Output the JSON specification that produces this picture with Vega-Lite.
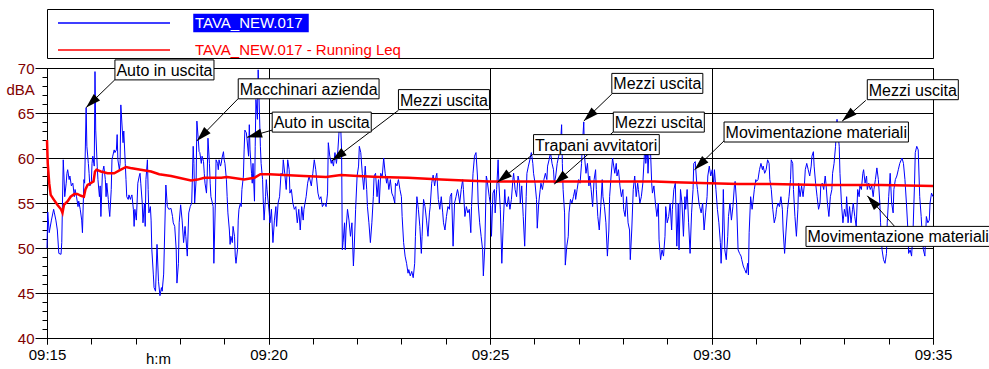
{
  "$schema": "https://vega.github.io/schema/vega-lite/v6.json",
  "autosize": {"type": "pad"},
  "padding": {"left": 5, "top": 8, "right": 0, "bottom": 0},
  "background": "white",
  "config": {
    "font": "Liberation Sans",
    "view": {"stroke": "#000000", "strokeWidth": 1},
    "axis": {"labelFont": "Liberation Sans", "titleFont": "Liberation Sans"},
    "legend": {"labelFont": "Liberation Sans"}
  },
  "spacing": 10,
  "bounds": "flush",
  "resolve": {"scale": {"color": "independent"}},
  "vconcat": [
    {
      "width": 886,
      "height": 49,
      "view": {"stroke": "#000000", "strokeWidth": 1},
      "data": {"values": [{}]},
      "mark": {"type": "text", "text": ""},
      "encoding": {}
    },
    {
  "width": 886,
  "height": 270,
  "resolve": {"axis": {"x": "independent", "y": "independent"}},
  "layer": [
    {
      "data": {"values": [
        {"t":"2024-01-01T09:15:00","v":50.0},{"t":"2024-01-01T09:15:01","v":54.0},{"t":"2024-01-01T09:15:03","v":51.7},{"t":"2024-01-01T09:15:06","v":53.1},{"t":"2024-01-01T09:15:09","v":54.3},{"t":"2024-01-01T09:15:10","v":53.9},{"t":"2024-01-01T09:15:12","v":53.1},{"t":"2024-01-01T09:15:14","v":52.0},{"t":"2024-01-01T09:15:16","v":49.4},{"t":"2024-01-01T09:15:19","v":49.3},{"t":"2024-01-01T09:15:20","v":50.6},{"t":"2024-01-01T09:15:22","v":59.8},{"t":"2024-01-01T09:15:23","v":58.0},{"t":"2024-01-01T09:15:24","v":55.7},{"t":"2024-01-01T09:15:26","v":57.2},{"t":"2024-01-01T09:15:27","v":58.3},{"t":"2024-01-01T09:15:28","v":58.7},{"t":"2024-01-01T09:15:30","v":57.6},{"t":"2024-01-01T09:15:31","v":58.0},{"t":"2024-01-01T09:15:33","v":56.9},{"t":"2024-01-01T09:15:35","v":57.2},{"t":"2024-01-01T09:15:37","v":55.7},{"t":"2024-01-01T09:15:38","v":56.5},{"t":"2024-01-01T09:15:40","v":55.7},{"t":"2024-01-01T09:15:42","v":54.6},{"t":"2024-01-01T09:15:43","v":55.2},{"t":"2024-01-01T09:15:45","v":54.3},{"t":"2024-01-01T09:15:47","v":53.1},{"t":"2024-01-01T09:15:48","v":51.7},{"t":"2024-01-01T09:15:50","v":57.6},{"t":"2024-01-01T09:15:51","v":57.2},{"t":"2024-01-01T09:15:53","v":65.6},{"t":"2024-01-01T09:15:54","v":61.3},{"t":"2024-01-01T09:15:56","v":59.4},{"t":"2024-01-01T09:15:57","v":58.3},{"t":"2024-01-01T09:15:58","v":56.9},
        {"t":"2024-01-01T09:16:00","v":57.2},{"t":"2024-01-01T09:16:01","v":59.4},{"t":"2024-01-01T09:16:02","v":60.2},{"t":"2024-01-01T09:16:04","v":59.1},{"t":"2024-01-01T09:16:05","v":69.6},{"t":"2024-01-01T09:16:06","v":63.1},{"t":"2024-01-01T09:16:08","v":59.1},{"t":"2024-01-01T09:16:09","v":57.6},{"t":"2024-01-01T09:16:11","v":55.7},{"t":"2024-01-01T09:16:12","v":56.9},{"t":"2024-01-01T09:16:13","v":53.5},{"t":"2024-01-01T09:16:15","v":58.3},{"t":"2024-01-01T09:16:16","v":58.7},{"t":"2024-01-01T09:16:17","v":59.1},{"t":"2024-01-01T09:16:19","v":57.6},{"t":"2024-01-01T09:16:20","v":55.7},{"t":"2024-01-01T09:16:21","v":57.2},{"t":"2024-01-01T09:16:23","v":55.4},{"t":"2024-01-01T09:16:24","v":54.3},{"t":"2024-01-01T09:16:25","v":53.5},{"t":"2024-01-01T09:16:27","v":56.5},{"t":"2024-01-01T09:16:28","v":59.8},{"t":"2024-01-01T09:16:29","v":60.2},{"t":"2024-01-01T09:16:31","v":60.9},{"t":"2024-01-01T09:16:32","v":60.6},{"t":"2024-01-01T09:16:34","v":60.9},{"t":"2024-01-01T09:16:35","v":62.6},{"t":"2024-01-01T09:16:36","v":59.8},{"t":"2024-01-01T09:16:38","v":58.7},{"t":"2024-01-01T09:16:39","v":59.4},{"t":"2024-01-01T09:16:40","v":65.9},{"t":"2024-01-01T09:16:42","v":63.1},{"t":"2024-01-01T09:16:43","v":61.7},{"t":"2024-01-01T09:16:44","v":63.0},{"t":"2024-01-01T09:16:46","v":59.4},{"t":"2024-01-01T09:16:47","v":57.6},{"t":"2024-01-01T09:16:48","v":55.7},{"t":"2024-01-01T09:16:50","v":55.4},{"t":"2024-01-01T09:16:51","v":55.9},{"t":"2024-01-01T09:16:53","v":55.4},{"t":"2024-01-01T09:16:54","v":55.7},{"t":"2024-01-01T09:16:55","v":55.9},{"t":"2024-01-01T09:16:57","v":54.3},{"t":"2024-01-01T09:16:58","v":52.4},{"t":"2024-01-01T09:16:59","v":54.3},
        {"t":"2024-01-01T09:17:01","v":53.1},{"t":"2024-01-01T09:17:02","v":55.0},{"t":"2024-01-01T09:17:03","v":57.2},{"t":"2024-01-01T09:17:05","v":58.0},{"t":"2024-01-01T09:17:06","v":58.3},{"t":"2024-01-01T09:17:07","v":57.2},{"t":"2024-01-01T09:17:09","v":55.0},{"t":"2024-01-01T09:17:10","v":52.8},{"t":"2024-01-01T09:17:12","v":55.0},{"t":"2024-01-01T09:17:13","v":52.4},{"t":"2024-01-01T09:17:14","v":57.6},{"t":"2024-01-01T09:17:16","v":59.8},{"t":"2024-01-01T09:17:17","v":56.5},{"t":"2024-01-01T09:17:18","v":53.9},{"t":"2024-01-01T09:17:20","v":54.6},{"t":"2024-01-01T09:17:21","v":53.1},{"t":"2024-01-01T09:17:22","v":49.8},{"t":"2024-01-01T09:17:24","v":47.1},{"t":"2024-01-01T09:17:25","v":45.6},{"t":"2024-01-01T09:17:27","v":45.2},{"t":"2024-01-01T09:17:29","v":50.4},{"t":"2024-01-01T09:17:31","v":46.3},{"t":"2024-01-01T09:17:33","v":44.7},{"t":"2024-01-01T09:17:35","v":45.6},{"t":"2024-01-01T09:17:36","v":45.2},{"t":"2024-01-01T09:17:38","v":47.1},{"t":"2024-01-01T09:17:41","v":57.0},{"t":"2024-01-01T09:17:43","v":54.6},{"t":"2024-01-01T09:17:45","v":54.3},{"t":"2024-01-01T09:17:48","v":54.4},{"t":"2024-01-01T09:17:50","v":53.5},{"t":"2024-01-01T09:17:51","v":52.8},{"t":"2024-01-01T09:17:53","v":52.4},{"t":"2024-01-01T09:17:55","v":49.8},{"t":"2024-01-01T09:17:56","v":46.1},{"t":"2024-01-01T09:17:58","v":48.3},{"t":"2024-01-01T09:17:59","v":52.8},
        {"t":"2024-01-01T09:18:01","v":54.8},{"t":"2024-01-01T09:18:03","v":53.1},{"t":"2024-01-01T09:18:05","v":50.6},{"t":"2024-01-01T09:18:07","v":52.4},{"t":"2024-01-01T09:18:08","v":51.3},{"t":"2024-01-01T09:18:10","v":49.1},{"t":"2024-01-01T09:18:12","v":53.9},{"t":"2024-01-01T09:18:14","v":54.6},{"t":"2024-01-01T09:18:16","v":55.0},{"t":"2024-01-01T09:18:18","v":61.3},{"t":"2024-01-01T09:18:19","v":59.4},{"t":"2024-01-01T09:18:20","v":55.0},{"t":"2024-01-01T09:18:22","v":57.6},{"t":"2024-01-01T09:18:23","v":64.1},{"t":"2024-01-01T09:18:25","v":62.0},{"t":"2024-01-01T09:18:26","v":60.7},{"t":"2024-01-01T09:18:27","v":60.6},{"t":"2024-01-01T09:18:29","v":59.4},{"t":"2024-01-01T09:18:30","v":60.2},{"t":"2024-01-01T09:18:32","v":59.6},{"t":"2024-01-01T09:18:33","v":58.3},{"t":"2024-01-01T09:18:34","v":57.2},{"t":"2024-01-01T09:18:36","v":56.1},{"t":"2024-01-01T09:18:37","v":58.0},{"t":"2024-01-01T09:18:38","v":62.2},{"t":"2024-01-01T09:18:40","v":59.4},{"t":"2024-01-01T09:18:41","v":57.2},{"t":"2024-01-01T09:18:42","v":55.7},{"t":"2024-01-01T09:18:44","v":55.0},{"t":"2024-01-01T09:18:45","v":54.6},{"t":"2024-01-01T09:18:46","v":48.3},{"t":"2024-01-01T09:18:48","v":55.0},{"t":"2024-01-01T09:18:49","v":59.8},{"t":"2024-01-01T09:18:51","v":59.4},{"t":"2024-01-01T09:18:52","v":58.7},{"t":"2024-01-01T09:18:53","v":59.8},{"t":"2024-01-01T09:18:55","v":59.1},{"t":"2024-01-01T09:18:56","v":59.4},{"t":"2024-01-01T09:18:57","v":60.0},{"t":"2024-01-01T09:18:59","v":60.7},
        {"t":"2024-01-01T09:19:00","v":59.8},{"t":"2024-01-01T09:19:01","v":59.4},{"t":"2024-01-01T09:19:03","v":57.6},{"t":"2024-01-01T09:19:04","v":55.7},{"t":"2024-01-01T09:19:05","v":53.9},{"t":"2024-01-01T09:19:07","v":52.0},{"t":"2024-01-01T09:19:08","v":50.4},{"t":"2024-01-01T09:19:09","v":51.3},{"t":"2024-01-01T09:19:11","v":50.6},{"t":"2024-01-01T09:19:12","v":52.4},{"t":"2024-01-01T09:19:14","v":51.3},{"t":"2024-01-01T09:19:15","v":49.1},{"t":"2024-01-01T09:19:16","v":48.3},{"t":"2024-01-01T09:19:18","v":49.8},{"t":"2024-01-01T09:19:19","v":53.1},{"t":"2024-01-01T09:19:20","v":54.3},{"t":"2024-01-01T09:19:22","v":55.0},{"t":"2024-01-01T09:19:23","v":54.6},{"t":"2024-01-01T09:19:24","v":56.5},{"t":"2024-01-01T09:19:26","v":58.0},{"t":"2024-01-01T09:19:27","v":60.9},{"t":"2024-01-01T09:19:28","v":63.1},{"t":"2024-01-01T09:19:30","v":62.8},{"t":"2024-01-01T09:19:31","v":62.0},{"t":"2024-01-01T09:19:33","v":60.2},{"t":"2024-01-01T09:19:34","v":63.7},{"t":"2024-01-01T09:19:35","v":60.9},{"t":"2024-01-01T09:19:37","v":58.3},{"t":"2024-01-01T09:19:38","v":57.2},{"t":"2024-01-01T09:19:39","v":59.4},{"t":"2024-01-01T09:19:41","v":55.2},{"t":"2024-01-01T09:19:42","v":61.3},{"t":"2024-01-01T09:19:43","v":66.5},{"t":"2024-01-01T09:19:45","v":64.3},{"t":"2024-01-01T09:19:46","v":69.8},{"t":"2024-01-01T09:19:47","v":67.2},{"t":"2024-01-01T09:19:49","v":61.3},{"t":"2024-01-01T09:19:50","v":59.4},{"t":"2024-01-01T09:19:52","v":57.6},{"t":"2024-01-01T09:19:53","v":55.0},{"t":"2024-01-01T09:19:54","v":53.1},{"t":"2024-01-01T09:19:56","v":55.7},{"t":"2024-01-01T09:19:57","v":57.6},{"t":"2024-01-01T09:19:58","v":56.5},
        {"t":"2024-01-01T09:20:01","v":53.9},{"t":"2024-01-01T09:20:02","v":52.8},{"t":"2024-01-01T09:20:04","v":54.3},{"t":"2024-01-01T09:20:06","v":50.6},{"t":"2024-01-01T09:20:08","v":53.1},{"t":"2024-01-01T09:20:10","v":54.6},{"t":"2024-01-01T09:20:11","v":52.4},{"t":"2024-01-01T09:20:13","v":55.0},{"t":"2024-01-01T09:20:15","v":55.7},{"t":"2024-01-01T09:20:17","v":58.3},{"t":"2024-01-01T09:20:19","v":58.0},{"t":"2024-01-01T09:20:20","v":59.8},{"t":"2024-01-01T09:20:22","v":58.3},{"t":"2024-01-01T09:20:24","v":56.5},{"t":"2024-01-01T09:20:26","v":59.8},{"t":"2024-01-01T09:20:28","v":58.7},{"t":"2024-01-01T09:20:29","v":56.1},{"t":"2024-01-01T09:20:31","v":56.5},{"t":"2024-01-01T09:20:33","v":55.0},{"t":"2024-01-01T09:20:35","v":54.3},{"t":"2024-01-01T09:20:37","v":54.6},{"t":"2024-01-01T09:20:39","v":52.8},{"t":"2024-01-01T09:20:41","v":54.3},{"t":"2024-01-01T09:20:43","v":52.0},{"t":"2024-01-01T09:20:45","v":54.6},{"t":"2024-01-01T09:20:47","v":53.1},{"t":"2024-01-01T09:20:48","v":54.3},{"t":"2024-01-01T09:20:51","v":55.7},{"t":"2024-01-01T09:20:53","v":57.2},{"t":"2024-01-01T09:20:55","v":58.0},{"t":"2024-01-01T09:20:58","v":56.9},
        {"t":"2024-01-01T09:21:00","v":58.3},{"t":"2024-01-01T09:21:02","v":59.8},{"t":"2024-01-01T09:21:04","v":58.7},{"t":"2024-01-01T09:21:07","v":56.1},{"t":"2024-01-01T09:21:09","v":55.4},{"t":"2024-01-01T09:21:11","v":55.7},{"t":"2024-01-01T09:21:13","v":54.6},{"t":"2024-01-01T09:21:16","v":55.0},{"t":"2024-01-01T09:21:18","v":54.6},{"t":"2024-01-01T09:21:20","v":56.1},{"t":"2024-01-01T09:21:21","v":61.7},{"t":"2024-01-01T09:21:23","v":60.2},{"t":"2024-01-01T09:21:25","v":59.4},{"t":"2024-01-01T09:21:26","v":59.8},{"t":"2024-01-01T09:21:28","v":59.1},{"t":"2024-01-01T09:21:30","v":60.6},{"t":"2024-01-01T09:21:32","v":59.4},{"t":"2024-01-01T09:21:34","v":60.9},{"t":"2024-01-01T09:21:36","v":63.5},{"t":"2024-01-01T09:21:37","v":65.0},{"t":"2024-01-01T09:21:39","v":60.9},{"t":"2024-01-01T09:21:40","v":49.8},{"t":"2024-01-01T09:21:41","v":50.6},{"t":"2024-01-01T09:21:43","v":52.8},{"t":"2024-01-01T09:21:44","v":49.8},{"t":"2024-01-01T09:21:45","v":52.0},{"t":"2024-01-01T09:21:47","v":54.3},{"t":"2024-01-01T09:21:49","v":53.1},{"t":"2024-01-01T09:21:51","v":51.3},{"t":"2024-01-01T09:21:53","v":52.8},{"t":"2024-01-01T09:21:55","v":48.0},{"t":"2024-01-01T09:21:56","v":49.8},{"t":"2024-01-01T09:21:58","v":54.3},
        {"t":"2024-01-01T09:22:00","v":58.0},{"t":"2024-01-01T09:22:02","v":59.1},{"t":"2024-01-01T09:22:03","v":61.3},{"t":"2024-01-01T09:22:05","v":60.6},{"t":"2024-01-01T09:22:07","v":58.3},{"t":"2024-01-01T09:22:09","v":56.5},{"t":"2024-01-01T09:22:11","v":59.1},{"t":"2024-01-01T09:22:13","v":56.5},{"t":"2024-01-01T09:22:14","v":54.6},{"t":"2024-01-01T09:22:16","v":52.8},{"t":"2024-01-01T09:22:18","v":50.6},{"t":"2024-01-01T09:22:20","v":52.8},{"t":"2024-01-01T09:22:22","v":55.7},{"t":"2024-01-01T09:22:23","v":58.0},{"t":"2024-01-01T09:22:25","v":58.3},{"t":"2024-01-01T09:22:27","v":55.7},{"t":"2024-01-01T09:22:29","v":57.6},{"t":"2024-01-01T09:22:30","v":55.0},{"t":"2024-01-01T09:22:32","v":58.3},{"t":"2024-01-01T09:22:34","v":57.9},{"t":"2024-01-01T09:22:36","v":60.0},{"t":"2024-01-01T09:22:38","v":58.3},{"t":"2024-01-01T09:22:40","v":57.2},{"t":"2024-01-01T09:22:41","v":58.0},{"t":"2024-01-01T09:22:43","v":56.5},{"t":"2024-01-01T09:22:45","v":57.6},{"t":"2024-01-01T09:22:47","v":56.1},{"t":"2024-01-01T09:22:49","v":55.7},{"t":"2024-01-01T09:22:51","v":55.0},{"t":"2024-01-01T09:22:52","v":57.2},{"t":"2024-01-01T09:22:54","v":56.9},{"t":"2024-01-01T09:22:56","v":57.6},{"t":"2024-01-01T09:22:58","v":56.5},
        {"t":"2024-01-01T09:23:00","v":55.7},{"t":"2024-01-01T09:23:01","v":53.5},{"t":"2024-01-01T09:23:03","v":50.6},{"t":"2024-01-01T09:23:05","v":49.1},{"t":"2024-01-01T09:23:07","v":48.3},{"t":"2024-01-01T09:23:09","v":47.2},{"t":"2024-01-01T09:23:10","v":47.6},{"t":"2024-01-01T09:23:12","v":46.9},{"t":"2024-01-01T09:23:14","v":47.4},{"t":"2024-01-01T09:23:16","v":46.7},{"t":"2024-01-01T09:23:18","v":48.3},{"t":"2024-01-01T09:23:19","v":51.3},{"t":"2024-01-01T09:23:21","v":55.7},{"t":"2024-01-01T09:23:23","v":54.3},{"t":"2024-01-01T09:23:25","v":52.4},{"t":"2024-01-01T09:23:27","v":49.4},{"t":"2024-01-01T09:23:28","v":51.3},{"t":"2024-01-01T09:23:30","v":55.4},{"t":"2024-01-01T09:23:32","v":54.6},{"t":"2024-01-01T09:23:34","v":53.1},{"t":"2024-01-01T09:23:36","v":51.3},{"t":"2024-01-01T09:23:38","v":53.9},{"t":"2024-01-01T09:23:39","v":54.6},{"t":"2024-01-01T09:23:41","v":57.2},{"t":"2024-01-01T09:23:43","v":58.1},{"t":"2024-01-01T09:23:45","v":56.9},{"t":"2024-01-01T09:23:47","v":58.0},{"t":"2024-01-01T09:23:48","v":58.3},{"t":"2024-01-01T09:23:50","v":55.4},{"t":"2024-01-01T09:23:52","v":54.3},{"t":"2024-01-01T09:23:54","v":55.7},{"t":"2024-01-01T09:23:56","v":53.9},{"t":"2024-01-01T09:23:57","v":52.8},{"t":"2024-01-01T09:23:59","v":52.0},
        {"t":"2024-01-01T09:24:01","v":53.5},{"t":"2024-01-01T09:24:03","v":54.6},{"t":"2024-01-01T09:24:05","v":54.3},{"t":"2024-01-01T09:24:06","v":55.7},{"t":"2024-01-01T09:24:08","v":56.1},{"t":"2024-01-01T09:24:10","v":50.2},{"t":"2024-01-01T09:24:12","v":55.0},{"t":"2024-01-01T09:24:14","v":55.7},{"t":"2024-01-01T09:24:16","v":56.5},{"t":"2024-01-01T09:24:17","v":56.1},{"t":"2024-01-01T09:24:19","v":55.0},{"t":"2024-01-01T09:24:21","v":56.5},{"t":"2024-01-01T09:24:23","v":57.6},{"t":"2024-01-01T09:24:24","v":56.5},{"t":"2024-01-01T09:24:26","v":53.5},{"t":"2024-01-01T09:24:28","v":54.6},{"t":"2024-01-01T09:24:30","v":53.9},{"t":"2024-01-01T09:24:32","v":54.3},{"t":"2024-01-01T09:24:34","v":51.7},{"t":"2024-01-01T09:24:35","v":54.6},{"t":"2024-01-01T09:24:37","v":58.3},{"t":"2024-01-01T09:24:39","v":60.2},{"t":"2024-01-01T09:24:41","v":60.6},{"t":"2024-01-01T09:24:43","v":58.0},{"t":"2024-01-01T09:24:44","v":55.0},{"t":"2024-01-01T09:24:46","v":52.8},{"t":"2024-01-01T09:24:48","v":51.3},{"t":"2024-01-01T09:24:50","v":49.8},{"t":"2024-01-01T09:24:51","v":46.9},{"t":"2024-01-01T09:24:53","v":50.2},{"t":"2024-01-01T09:24:55","v":58.0},{"t":"2024-01-01T09:24:56","v":57.6},{"t":"2024-01-01T09:24:59","v":55.7},
        {"t":"2024-01-01T09:25:01","v":54.6},{"t":"2024-01-01T09:25:02","v":51.3},{"t":"2024-01-01T09:25:04","v":56.1},{"t":"2024-01-01T09:25:06","v":56.5},{"t":"2024-01-01T09:25:07","v":53.9},{"t":"2024-01-01T09:25:09","v":56.5},{"t":"2024-01-01T09:25:11","v":59.8},{"t":"2024-01-01T09:25:12","v":57.2},{"t":"2024-01-01T09:25:14","v":54.3},{"t":"2024-01-01T09:25:16","v":48.3},{"t":"2024-01-01T09:25:18","v":52.8},{"t":"2024-01-01T09:25:20","v":56.5},{"t":"2024-01-01T09:25:21","v":55.0},{"t":"2024-01-01T09:25:23","v":54.6},{"t":"2024-01-01T09:25:25","v":55.7},{"t":"2024-01-01T09:25:27","v":54.3},{"t":"2024-01-01T09:25:29","v":55.4},{"t":"2024-01-01T09:25:31","v":57.6},{"t":"2024-01-01T09:25:32","v":58.3},{"t":"2024-01-01T09:25:34","v":56.5},{"t":"2024-01-01T09:25:36","v":55.7},{"t":"2024-01-01T09:25:38","v":58.0},{"t":"2024-01-01T09:25:40","v":57.2},{"t":"2024-01-01T09:25:41","v":55.0},{"t":"2024-01-01T09:25:43","v":56.9},{"t":"2024-01-01T09:25:45","v":53.5},{"t":"2024-01-01T09:25:47","v":50.2},{"t":"2024-01-01T09:25:49","v":55.7},{"t":"2024-01-01T09:25:50","v":58.3},{"t":"2024-01-01T09:25:52","v":59.1},{"t":"2024-01-01T09:25:54","v":59.8},{"t":"2024-01-01T09:25:56","v":60.6},{"t":"2024-01-01T09:25:58","v":59.4},{"t":"2024-01-01T09:25:59","v":58.3},
        {"t":"2024-01-01T09:26:01","v":57.2},{"t":"2024-01-01T09:26:03","v":55.4},{"t":"2024-01-01T09:26:04","v":52.2},{"t":"2024-01-01T09:26:06","v":55.0},{"t":"2024-01-01T09:26:08","v":56.5},{"t":"2024-01-01T09:26:09","v":57.2},{"t":"2024-01-01T09:26:11","v":56.5},{"t":"2024-01-01T09:26:13","v":57.6},{"t":"2024-01-01T09:26:15","v":58.3},{"t":"2024-01-01T09:26:17","v":57.6},{"t":"2024-01-01T09:26:18","v":59.1},{"t":"2024-01-01T09:26:20","v":59.8},{"t":"2024-01-01T09:26:22","v":60.6},{"t":"2024-01-01T09:26:24","v":59.4},{"t":"2024-01-01T09:26:26","v":58.7},{"t":"2024-01-01T09:26:27","v":57.2},{"t":"2024-01-01T09:26:29","v":58.0},{"t":"2024-01-01T09:26:31","v":59.4},{"t":"2024-01-01T09:26:33","v":60.2},{"t":"2024-01-01T09:26:35","v":60.9},{"t":"2024-01-01T09:26:37","v":63.7},{"t":"2024-01-01T09:26:38","v":59.4},{"t":"2024-01-01T09:26:39","v":56.5},{"t":"2024-01-01T09:26:41","v":53.9},{"t":"2024-01-01T09:26:42","v":48.1},{"t":"2024-01-01T09:26:44","v":50.2},{"t":"2024-01-01T09:26:46","v":51.3},{"t":"2024-01-01T09:26:47","v":53.9},{"t":"2024-01-01T09:26:49","v":55.4},{"t":"2024-01-01T09:26:51","v":55.0},{"t":"2024-01-01T09:26:53","v":55.7},{"t":"2024-01-01T09:26:55","v":56.5},{"t":"2024-01-01T09:26:56","v":55.4},{"t":"2024-01-01T09:26:58","v":56.5},
        {"t":"2024-01-01T09:27:00","v":57.6},{"t":"2024-01-01T09:27:02","v":57.2},{"t":"2024-01-01T09:27:04","v":59.4},{"t":"2024-01-01T09:27:05","v":61.3},{"t":"2024-01-01T09:27:07","v":64.0},{"t":"2024-01-01T09:27:08","v":60.2},{"t":"2024-01-01T09:27:10","v":58.3},{"t":"2024-01-01T09:27:12","v":59.4},{"t":"2024-01-01T09:27:14","v":56.9},{"t":"2024-01-01T09:27:15","v":58.0},{"t":"2024-01-01T09:27:17","v":56.5},{"t":"2024-01-01T09:27:19","v":54.6},{"t":"2024-01-01T09:27:21","v":57.6},{"t":"2024-01-01T09:27:23","v":58.7},{"t":"2024-01-01T09:27:24","v":56.5},{"t":"2024-01-01T09:27:26","v":53.5},{"t":"2024-01-01T09:27:28","v":52.0},{"t":"2024-01-01T09:27:30","v":54.6},{"t":"2024-01-01T09:27:32","v":57.6},{"t":"2024-01-01T09:27:33","v":55.7},{"t":"2024-01-01T09:27:35","v":54.6},{"t":"2024-01-01T09:27:37","v":52.8},{"t":"2024-01-01T09:27:39","v":49.1},{"t":"2024-01-01T09:27:41","v":52.0},{"t":"2024-01-01T09:27:42","v":55.7},{"t":"2024-01-01T09:27:44","v":58.0},{"t":"2024-01-01T09:27:46","v":60.0},{"t":"2024-01-01T09:27:49","v":58.3},{"t":"2024-01-01T09:27:51","v":59.4},{"t":"2024-01-01T09:27:52","v":58.0},{"t":"2024-01-01T09:27:54","v":58.7},{"t":"2024-01-01T09:27:56","v":56.9},{"t":"2024-01-01T09:27:58","v":55.7},
        {"t":"2024-01-01T09:28:00","v":56.5},{"t":"2024-01-01T09:28:01","v":54.3},{"t":"2024-01-01T09:28:03","v":53.5},{"t":"2024-01-01T09:28:05","v":55.7},{"t":"2024-01-01T09:28:07","v":52.8},{"t":"2024-01-01T09:28:09","v":52.0},{"t":"2024-01-01T09:28:10","v":48.7},{"t":"2024-01-01T09:28:12","v":52.0},{"t":"2024-01-01T09:28:14","v":56.5},{"t":"2024-01-01T09:28:16","v":58.0},{"t":"2024-01-01T09:28:18","v":55.7},{"t":"2024-01-01T09:28:20","v":57.2},{"t":"2024-01-01T09:28:21","v":56.5},{"t":"2024-01-01T09:28:23","v":55.0},{"t":"2024-01-01T09:28:25","v":55.7},{"t":"2024-01-01T09:28:27","v":57.2},{"t":"2024-01-01T09:28:29","v":60.2},{"t":"2024-01-01T09:28:30","v":61.7},{"t":"2024-01-01T09:28:31","v":59.4},{"t":"2024-01-01T09:28:33","v":61.3},{"t":"2024-01-01T09:28:34","v":58.3},{"t":"2024-01-01T09:28:35","v":60.2},{"t":"2024-01-01T09:28:37","v":61.7},{"t":"2024-01-01T09:28:39","v":57.2},{"t":"2024-01-01T09:28:40","v":56.1},{"t":"2024-01-01T09:28:42","v":56.9},{"t":"2024-01-01T09:28:44","v":55.0},{"t":"2024-01-01T09:28:46","v":53.5},{"t":"2024-01-01T09:28:48","v":55.0},{"t":"2024-01-01T09:28:49","v":50.9},{"t":"2024-01-01T09:28:51","v":48.7},{"t":"2024-01-01T09:28:53","v":49.8},{"t":"2024-01-01T09:28:55","v":49.1},{"t":"2024-01-01T09:28:57","v":51.3},{"t":"2024-01-01T09:28:58","v":54.6},
        {"t":"2024-01-01T09:29:00","v":52.8},{"t":"2024-01-01T09:29:02","v":53.5},{"t":"2024-01-01T09:29:04","v":55.0},{"t":"2024-01-01T09:29:06","v":52.0},{"t":"2024-01-01T09:29:07","v":54.3},{"t":"2024-01-01T09:29:09","v":56.5},{"t":"2024-01-01T09:29:11","v":57.2},{"t":"2024-01-01T09:29:13","v":50.2},{"t":"2024-01-01T09:29:15","v":55.0},{"t":"2024-01-01T09:29:16","v":49.8},{"t":"2024-01-01T09:29:18","v":56.5},{"t":"2024-01-01T09:29:20","v":55.0},{"t":"2024-01-01T09:29:22","v":51.3},{"t":"2024-01-01T09:29:24","v":55.7},{"t":"2024-01-01T09:29:25","v":54.3},{"t":"2024-01-01T09:29:27","v":56.5},{"t":"2024-01-01T09:29:29","v":52.8},{"t":"2024-01-01T09:29:31","v":49.4},{"t":"2024-01-01T09:29:33","v":53.9},{"t":"2024-01-01T09:29:35","v":56.5},{"t":"2024-01-01T09:29:36","v":59.4},{"t":"2024-01-01T09:29:38","v":59.6},{"t":"2024-01-01T09:29:40","v":57.2},{"t":"2024-01-01T09:29:41","v":56.5},{"t":"2024-01-01T09:29:43","v":55.0},{"t":"2024-01-01T09:29:44","v":54.6},{"t":"2024-01-01T09:29:46","v":53.9},{"t":"2024-01-01T09:29:48","v":55.0},{"t":"2024-01-01T09:29:50","v":52.0},{"t":"2024-01-01T09:29:52","v":53.9},{"t":"2024-01-01T09:29:54","v":55.7},{"t":"2024-01-01T09:29:55","v":58.0},{"t":"2024-01-01T09:29:57","v":59.1},{"t":"2024-01-01T09:29:59","v":58.0},
        {"t":"2024-01-01T09:30:01","v":58.7},{"t":"2024-01-01T09:30:03","v":57.2},{"t":"2024-01-01T09:30:04","v":58.7},{"t":"2024-01-01T09:30:06","v":56.5},{"t":"2024-01-01T09:30:08","v":54.3},{"t":"2024-01-01T09:30:10","v":52.8},{"t":"2024-01-01T09:30:12","v":50.6},{"t":"2024-01-01T09:30:13","v":48.3},{"t":"2024-01-01T09:30:15","v":52.0},{"t":"2024-01-01T09:30:16","v":56.5},{"t":"2024-01-01T09:30:18","v":49.8},{"t":"2024-01-01T09:30:20","v":48.7},{"t":"2024-01-01T09:30:22","v":51.3},{"t":"2024-01-01T09:30:23","v":53.5},{"t":"2024-01-01T09:30:25","v":55.0},{"t":"2024-01-01T09:30:27","v":53.1},{"t":"2024-01-01T09:30:29","v":54.6},{"t":"2024-01-01T09:30:31","v":56.9},{"t":"2024-01-01T09:30:32","v":57.4},{"t":"2024-01-01T09:30:34","v":55.0},{"t":"2024-01-01T09:30:36","v":49.8},{"t":"2024-01-01T09:30:38","v":49.4},{"t":"2024-01-01T09:30:40","v":49.1},{"t":"2024-01-01T09:30:41","v":48.7},{"t":"2024-01-01T09:30:43","v":48.0},{"t":"2024-01-01T09:30:45","v":47.6},{"t":"2024-01-01T09:30:47","v":47.2},{"t":"2024-01-01T09:30:49","v":48.3},{"t":"2024-01-01T09:30:50","v":47.0},{"t":"2024-01-01T09:30:51","v":51.7},{"t":"2024-01-01T09:30:53","v":55.7},{"t":"2024-01-01T09:30:55","v":54.3},{"t":"2024-01-01T09:30:56","v":55.0},{"t":"2024-01-01T09:30:58","v":56.5},
        {"t":"2024-01-01T09:31:00","v":57.6},{"t":"2024-01-01T09:31:01","v":57.4},{"t":"2024-01-01T09:31:03","v":57.6},{"t":"2024-01-01T09:31:05","v":58.7},{"t":"2024-01-01T09:31:07","v":59.4},{"t":"2024-01-01T09:31:09","v":58.7},{"t":"2024-01-01T09:31:10","v":59.1},{"t":"2024-01-01T09:31:12","v":58.3},{"t":"2024-01-01T09:31:14","v":58.7},{"t":"2024-01-01T09:31:16","v":59.8},{"t":"2024-01-01T09:31:18","v":59.4},{"t":"2024-01-01T09:31:19","v":57.6},{"t":"2024-01-01T09:31:21","v":56.5},{"t":"2024-01-01T09:31:23","v":54.3},{"t":"2024-01-01T09:31:25","v":52.8},{"t":"2024-01-01T09:31:27","v":53.5},{"t":"2024-01-01T09:31:28","v":54.3},{"t":"2024-01-01T09:31:30","v":55.0},{"t":"2024-01-01T09:31:32","v":54.6},{"t":"2024-01-01T09:31:34","v":55.7},{"t":"2024-01-01T09:31:36","v":54.3},{"t":"2024-01-01T09:31:37","v":52.0},{"t":"2024-01-01T09:31:39","v":49.4},{"t":"2024-01-01T09:31:41","v":52.0},{"t":"2024-01-01T09:31:43","v":54.3},{"t":"2024-01-01T09:31:45","v":55.7},{"t":"2024-01-01T09:31:47","v":57.6},{"t":"2024-01-01T09:31:48","v":59.8},{"t":"2024-01-01T09:31:50","v":59.4},{"t":"2024-01-01T09:31:51","v":56.5},{"t":"2024-01-01T09:31:53","v":53.5},{"t":"2024-01-01T09:31:55","v":51.3},{"t":"2024-01-01T09:31:57","v":54.3},{"t":"2024-01-01T09:31:58","v":57.2},
        {"t":"2024-01-01T09:32:00","v":55.7},{"t":"2024-01-01T09:32:02","v":56.9},{"t":"2024-01-01T09:32:04","v":55.7},{"t":"2024-01-01T09:32:06","v":57.2},{"t":"2024-01-01T09:32:07","v":58.7},{"t":"2024-01-01T09:32:09","v":59.4},{"t":"2024-01-01T09:32:11","v":58.7},{"t":"2024-01-01T09:32:13","v":58.0},{"t":"2024-01-01T09:32:15","v":59.1},{"t":"2024-01-01T09:32:16","v":60.2},{"t":"2024-01-01T09:32:18","v":60.7},{"t":"2024-01-01T09:32:19","v":59.1},{"t":"2024-01-01T09:32:21","v":57.2},{"t":"2024-01-01T09:32:23","v":55.7},{"t":"2024-01-01T09:32:25","v":54.3},{"t":"2024-01-01T09:32:27","v":55.0},{"t":"2024-01-01T09:32:28","v":56.9},{"t":"2024-01-01T09:32:30","v":57.2},{"t":"2024-01-01T09:32:32","v":56.5},{"t":"2024-01-01T09:32:34","v":58.0},{"t":"2024-01-01T09:32:35","v":57.2},{"t":"2024-01-01T09:32:37","v":55.0},{"t":"2024-01-01T09:32:39","v":53.5},{"t":"2024-01-01T09:32:41","v":55.7},{"t":"2024-01-01T09:32:43","v":56.5},{"t":"2024-01-01T09:32:44","v":58.3},{"t":"2024-01-01T09:32:46","v":59.4},{"t":"2024-01-01T09:32:48","v":61.3},{"t":"2024-01-01T09:32:50","v":64.3},{"t":"2024-01-01T09:32:51","v":63.0},{"t":"2024-01-01T09:32:53","v":61.3},{"t":"2024-01-01T09:32:54","v":58.3},{"t":"2024-01-01T09:32:56","v":55.0},{"t":"2024-01-01T09:32:58","v":52.8},
        {"t":"2024-01-01T09:33:00","v":54.3},{"t":"2024-01-01T09:33:02","v":53.5},{"t":"2024-01-01T09:33:03","v":55.7},{"t":"2024-01-01T09:33:05","v":52.8},{"t":"2024-01-01T09:33:07","v":54.6},{"t":"2024-01-01T09:33:09","v":52.8},{"t":"2024-01-01T09:33:11","v":54.3},{"t":"2024-01-01T09:33:12","v":55.0},{"t":"2024-01-01T09:33:14","v":53.5},{"t":"2024-01-01T09:33:16","v":52.4},{"t":"2024-01-01T09:33:18","v":56.5},{"t":"2024-01-01T09:33:20","v":55.7},{"t":"2024-01-01T09:33:21","v":56.9},{"t":"2024-01-01T09:33:23","v":56.5},{"t":"2024-01-01T09:33:25","v":58.3},{"t":"2024-01-01T09:33:26","v":58.7},{"t":"2024-01-01T09:33:28","v":57.2},{"t":"2024-01-01T09:33:30","v":58.0},{"t":"2024-01-01T09:33:31","v":56.5},{"t":"2024-01-01T09:33:33","v":57.2},{"t":"2024-01-01T09:33:35","v":56.5},{"t":"2024-01-01T09:33:37","v":56.9},{"t":"2024-01-01T09:33:39","v":55.7},{"t":"2024-01-01T09:33:40","v":56.5},{"t":"2024-01-01T09:33:42","v":57.6},{"t":"2024-01-01T09:33:44","v":58.9},{"t":"2024-01-01T09:33:46","v":57.6},{"t":"2024-01-01T09:33:48","v":55.0},{"t":"2024-01-01T09:33:49","v":52.8},{"t":"2024-01-01T09:33:51","v":49.8},{"t":"2024-01-01T09:33:53","v":48.7},{"t":"2024-01-01T09:33:55","v":48.3},{"t":"2024-01-01T09:33:57","v":49.4},{"t":"2024-01-01T09:33:58","v":52.8},
        {"t":"2024-01-01T09:34:00","v":55.7},{"t":"2024-01-01T09:34:02","v":58.3},{"t":"2024-01-01T09:34:04","v":55.0},{"t":"2024-01-01T09:34:06","v":53.9},{"t":"2024-01-01T09:34:07","v":56.5},{"t":"2024-01-01T09:34:09","v":57.6},{"t":"2024-01-01T09:34:11","v":58.0},{"t":"2024-01-01T09:34:13","v":58.7},{"t":"2024-01-01T09:34:15","v":59.4},{"t":"2024-01-01T09:34:17","v":59.8},{"t":"2024-01-01T09:34:18","v":60.0},{"t":"2024-01-01T09:34:20","v":59.4},{"t":"2024-01-01T09:34:22","v":57.6},{"t":"2024-01-01T09:34:24","v":55.0},{"t":"2024-01-01T09:34:26","v":52.0},{"t":"2024-01-01T09:34:27","v":49.4},{"t":"2024-01-01T09:34:29","v":49.8},{"t":"2024-01-01T09:34:31","v":49.1},{"t":"2024-01-01T09:34:33","v":52.0},{"t":"2024-01-01T09:34:35","v":57.2},{"t":"2024-01-01T09:34:36","v":60.6},{"t":"2024-01-01T09:34:38","v":61.3},{"t":"2024-01-01T09:34:40","v":60.9},{"t":"2024-01-01T09:34:42","v":55.7},{"t":"2024-01-01T09:34:44","v":53.5},{"t":"2024-01-01T09:34:45","v":52.0},{"t":"2024-01-01T09:34:47","v":49.8},{"t":"2024-01-01T09:34:49","v":49.1},{"t":"2024-01-01T09:34:51","v":53.5},{"t":"2024-01-01T09:34:53","v":52.8},{"t":"2024-01-01T09:34:55","v":53.1},{"t":"2024-01-01T09:34:56","v":55.0},{"t":"2024-01-01T09:34:58","v":56.1},{"t":"2024-01-01T09:35:00","v":55.7}
      ]},
      "mark": {"type": "line", "strokeWidth": 1},
      "encoding": {
        "x": {"field": "t", "type": "temporal",
          "scale": {"domain": [{"year": 2024, "month": 1, "date": 1, "hours": 9, "minutes": 15}, {"year": 2024, "month": 1, "date": 1, "hours": 9, "minutes": 35}]},
          "axis": {"orient": "bottom", "tickCount": 4, "format": "%H:%M", "grid": true, "gridColor": "#000000", "gridOpacity": 1, "gridWidth": 1, "domain": false, "ticks": true, "tickSize": 6, "tickColor": "#000000", "tickWidth": 1, "labelFontSize": 15, "labelColor": "#000000", "labelPadding": 3, "labelFlush": false, "labelOverlap": false, "title": "h:m", "titleX": 111, "titleY": 25, "titleAlign": "center", "titleBaseline": "alphabetic", "titleFontSize": 15, "titleFontWeight": "normal", "titleColor": "#000000"}},
        "y": {"field": "v", "type": "quantitative",
          "scale": {"domain": [40, 70], "nice": false, "zero": false},
          "axis": {"orient": "left", "values": [40, 45, 50, 55, 60, 65, 70], "grid": true, "gridColor": "#000000", "gridOpacity": 1, "gridWidth": 1, "domain": false, "ticks": true, "tickSize": 12, "tickColor": "#000000", "tickWidth": 1, "labelFontSize": 15, "labelColor": "#800000", "labelPadding": 1, "labelFlush": false, "labelOverlap": false, "title": "dBA", "titleAngle": 0, "titleX": -41, "titleY": 21, "titleAlign": "left", "titleBaseline": "middle", "titleFontSize": 15, "titleFontWeight": "normal", "titleColor": "#800000"}},
        "color": {"datum": "TAVA_NEW.017", "type": "nominal",
          "scale": {"domain": ["TAVA_NEW.017", "TAVA_NEW.017 - Running Leq"], "range": ["#0000ff", "#ff0000"]},
          "legend": {
            "orient": "none", "legendX": 56, "legendY": -56, "direction": "vertical", "title": null, "padding": 0,
            "symbolSize": 400, "symbolStrokeWidth": 1.5,
            "symbolType": {"expr": "datum.value === 'TAVA_NEW.017' ? 'M-5.6,0H5.6M8,-0.85H19.4V0.85H8Z' : 'M-5.6,0H5.6'"},
            "symbolFillColor": {"expr": "datum.value === 'TAVA_NEW.017' ? '#0000ff' : 'transparent'"},
            "symbolOpacity": 1,
            "labelColor": {"expr": "datum.value === 'TAVA_NEW.017' ? '#ffffff' : '#ff0000'"},
            "labelFontSize": 15, "labelOffset": 70, "labelLimit": 500, "rowPadding": 4
          }
        }
      }
    },
    {
      "data": {"values": [
        {"t":"2024-01-01T09:15:00","v":62.0},{"t":"2024-01-01T09:15:01","v":59.4},{"t":"2024-01-01T09:15:03","v":57.2},{"t":"2024-01-01T09:15:05","v":55.9},{"t":"2024-01-01T09:15:09","v":55.4},{"t":"2024-01-01T09:15:14","v":54.8},{"t":"2024-01-01T09:15:19","v":54.3},{"t":"2024-01-01T09:15:21","v":53.9},{"t":"2024-01-01T09:15:23","v":54.8},{"t":"2024-01-01T09:15:28","v":55.2},{"t":"2024-01-01T09:15:32","v":55.7},{"t":"2024-01-01T09:15:37","v":56.0},{"t":"2024-01-01T09:15:41","v":56.0},{"t":"2024-01-01T09:15:46","v":55.8},{"t":"2024-01-01T09:15:50","v":55.7},{"t":"2024-01-01T09:15:52","v":56.5},{"t":"2024-01-01T09:15:55","v":57.0},{"t":"2024-01-01T09:15:59","v":57.2},{"t":"2024-01-01T09:16:03","v":57.4},{"t":"2024-01-01T09:16:05","v":58.5},{"t":"2024-01-01T09:16:07","v":58.7},{"t":"2024-01-01T09:16:13","v":58.5},{"t":"2024-01-01T09:16:22","v":58.3},{"t":"2024-01-01T09:16:31","v":58.3},{"t":"2024-01-01T09:16:40","v":58.7},{"t":"2024-01-01T09:16:47","v":59.0},{"t":"2024-01-01T09:16:53","v":58.9},{"t":"2024-01-01T09:17:07","v":58.7},{"t":"2024-01-01T09:17:21","v":58.5},{"t":"2024-01-01T09:17:32","v":58.2},{"t":"2024-01-01T09:17:48","v":58.0},{"t":"2024-01-01T09:18:15","v":57.5},{"t":"2024-01-01T09:18:24","v":57.6},{"t":"2024-01-01T09:18:33","v":57.8},{"t":"2024-01-01T09:18:56","v":57.8},{"t":"2024-01-01T09:19:04","v":57.9},{"t":"2024-01-01T09:19:27","v":57.6},{"t":"2024-01-01T09:19:41","v":57.8},{"t":"2024-01-01T09:19:49","v":58.2},{"t":"2024-01-01T09:20:01","v":58.2},{"t":"2024-01-01T09:20:21","v":58.1},{"t":"2024-01-01T09:20:48","v":58.0},{"t":"2024-01-01T09:21:18","v":57.9},{"t":"2024-01-01T09:21:38","v":58.1},{"t":"2024-01-01T09:22:01","v":58.0},{"t":"2024-01-01T09:22:30","v":57.9},{"t":"2024-01-01T09:23:09","v":57.8},{"t":"2024-01-01T09:23:54","v":57.6},{"t":"2024-01-01T09:24:25","v":57.5},{"t":"2024-01-01T09:24:59","v":57.4},{"t":"2024-01-01T09:26:00","v":57.4},{"t":"2024-01-01T09:27:28","v":57.4},{"t":"2024-01-01T09:28:43","v":57.4},{"t":"2024-01-01T09:29:10","v":57.3},{"t":"2024-01-01T09:29:58","v":57.2},{"t":"2024-01-01T09:30:36","v":57.1},{"t":"2024-01-01T09:31:21","v":57.1},{"t":"2024-01-01T09:32:27","v":57.0},{"t":"2024-01-01T09:33:50","v":57.0},{"t":"2024-01-01T09:35:00","v":56.9}
      ]},
      "mark": {"type": "line", "strokeWidth": 2.5},
      "encoding": {
        "x": {"field": "t", "type": "temporal",
          "scale": {"domain": [{"year": 2024, "month": 1, "date": 1, "hours": 9, "minutes": 15}, {"year": 2024, "month": 1, "date": 1, "hours": 9, "minutes": 35}]},
          "axis": {"orient": "bottom", "tickCount": 20, "labels": false, "grid": false, "domain": false, "ticks": true, "tickSize": 6, "tickColor": "#000000", "tickWidth": 1, "title": null}},
        "y": {"field": "v", "type": "quantitative",
          "scale": {"domain": [40, 70], "nice": false, "zero": false},
          "axis": {"orient": "left", "values": [40,41,42,43,44,45,46,47,48,49,50,51,52,53,54,55,56,57,58,59,60,61,62,63,64,65,66,67,68,69,70], "labels": false, "grid": false, "domain": false, "ticks": true, "tickSize": 5, "tickColor": "#000000", "tickWidth": 1, "title": null}},
        "color": {"datum": "TAVA_NEW.017 - Running Leq", "type": "nominal"}
      }
    },
    {
      "data": {"values": [
        {"label":"Auto in uscita","bt":"2024-01-01T09:16:32","bv":70.9,"at":"2024-01-01T09:16:32","av":68.7,"pt":"2024-01-01T09:15:53","pv":65.6},
        {"label":"Macchinari azienda","bt":"2024-01-01T09:19:19","bv":68.8,"at":"2024-01-01T09:19:19","av":66.6,"pt":"2024-01-01T09:18:23","pv":61.9},
        {"label":"Auto in uscita","bt":"2024-01-01T09:20:05","bv":65.1,"at":"2024-01-01T09:20:05","av":63.1,"pt":"2024-01-01T09:19:31","pv":62.3},
        {"label":"Mezzi uscita","bt":"2024-01-01T09:22:56","bv":67.6,"at":"2024-01-01T09:22:56","av":65.3,"pt":"2024-01-01T09:21:26","pv":59.7},
        {"label":"Trapani avvitatori","bt":"2024-01-01T09:25:59","bv":62.6,"at":"2024-01-01T09:25:58","av":60.4,"pt":"2024-01-01T09:25:10","pv":57.3},
        {"label":"Mezzi uscita","bt":"2024-01-01T09:27:45","bv":69.4,"at":"2024-01-01T09:27:45","av":67.1,"pt":"2024-01-01T09:27:07","pv":64.1},
        {"label":"Mezzi uscita","bt":"2024-01-01T09:27:47","bv":65.1,"at":"2024-01-01T09:27:47","av":62.9,"pt":"2024-01-01T09:26:27","pv":57.1},
        {"label":"Movimentazione materiali","bt":"2024-01-01T09:30:17","bv":64.0,"at":"2024-01-01T09:30:17","av":61.9,"pt":"2024-01-01T09:29:37","pv":58.7},
        {"label":"Mezzi uscita","bt":"2024-01-01T09:33:31","bv":68.7,"at":"2024-01-01T09:33:29","av":66.4,"pt":"2024-01-01T09:32:57","pv":64.1},
        {"label":"Movimentazione materiali","bt":"2024-01-01T09:32:08","bv":52.4,"at":"2024-01-01T09:34:08","av":52.4,"pt":"2024-01-01T09:33:31","pv":55.8}
      ], "format": {"parse": {"bt": "date", "at": "date", "pt": "date"}}},
      "layer": [
        {
          "mark": {"type": "rule", "color": "#000000", "strokeWidth": 1},
          "encoding": {
            "x": {"field": "at", "type": "temporal", "scale": {"domain": [{"year": 2024, "month": 1, "date": 1, "hours": 9, "minutes": 15}, {"year": 2024, "month": 1, "date": 1, "hours": 9, "minutes": 35}]}, "axis": null},
            "x2": {"field": "pt"},
            "y": {"field": "av", "type": "quantitative", "scale": {"domain": [40, 70], "nice": false, "zero": false}, "axis": null},
            "y2": {"field": "pv"}
          }
        },
        {
          "transform": [
            {"calculate": "time(datum.bt) + (16*(0.556*length(datum.label) - 0.334*length(replace(datum.label, regexp('[^il]','g'), '')) - 0.278*length(replace(datum.label, regexp('[^t ]','g'), '')) - 0.223*length(replace(datum.label, regexp('[^r]','g'), '')) + 0.277*length(replace(datum.label, regexp('[^Mm]','g'), '')) - 0.056*length(replace(datum.label, regexp('[^zscv]','g'), '')) + 0.111*length(replace(datum.label, regexp('[^A]','g'), '')) + 0.055*length(replace(datum.label, regexp('[^T]','g'), ''))) + 3) * 1200000 / 886", "as": "bend"},
            {"calculate": "datum.bv - 20/9", "as": "bbot"}
          ],
          "mark": {"type": "rect", "fill": "#ffffff", "stroke": "#000000", "strokeWidth": 1},
          "encoding": {
            "x": {"field": "bt", "type": "temporal", "scale": {"domain": [{"year": 2024, "month": 1, "date": 1, "hours": 9, "minutes": 15}, {"year": 2024, "month": 1, "date": 1, "hours": 9, "minutes": 35}]}, "axis": null},
            "x2": {"field": "bend"},
            "y": {"field": "bv", "type": "quantitative", "scale": {"domain": [40, 70], "nice": false, "zero": false}, "axis": null},
            "y2": {"field": "bbot"}
          }
        },
        {
          "transform": [{"calculate": "datum.bv - 10/9", "as": "bmid"}],
          "mark": {"type": "text", "align": "left", "baseline": "middle", "dx": 1.5, "dy": 1, "fontSize": 16, "font": "Liberation Sans", "color": "#000000"},
          "encoding": {
            "x": {"field": "bt", "type": "temporal", "scale": {"domain": [{"year": 2024, "month": 1, "date": 1, "hours": 9, "minutes": 15}, {"year": 2024, "month": 1, "date": 1, "hours": 9, "minutes": 35}]}, "axis": null},
            "y": {"field": "bmid", "type": "quantitative", "scale": {"domain": [40, 70], "nice": false, "zero": false}, "axis": null},
            "text": {"field": "label"}
          }
        },
        {
          "transform": [{"calculate": "atan2((datum.av - datum.pv)*9, (time(datum.pt) - time(datum.at))*886/1200000)*180/PI", "as": "ang"}],
          "mark": {"type": "point", "shape": "M0,0L-2,-0.6L-2,0.6Z", "filled": true, "fill": "#000000", "strokeWidth": 0, "size": 225, "opacity": 1},
          "encoding": {
            "x": {"field": "pt", "type": "temporal", "scale": {"domain": [{"year": 2024, "month": 1, "date": 1, "hours": 9, "minutes": 15}, {"year": 2024, "month": 1, "date": 1, "hours": 9, "minutes": 35}]}, "axis": null},
            "y": {"field": "pv", "type": "quantitative", "scale": {"domain": [40, 70], "nice": false, "zero": false}, "axis": null},
            "angle": {"field": "ang", "type": "quantitative", "scale": null}
          }
        }
      ]
    }
  ]
    }
  ]
}
